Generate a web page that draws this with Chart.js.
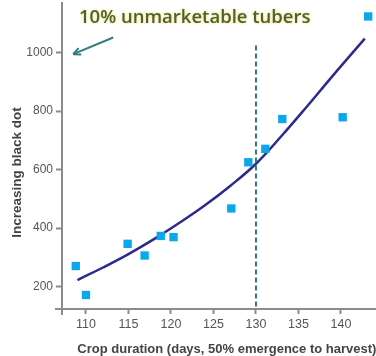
<!DOCTYPE html>
<html>
<head>
<meta charset="utf-8">
<script src="https://cdn.jsdelivr.net/npm/chart.js@4/dist/chart.umd.min.js"></script>
<style>
  html, body { margin: 0; padding: 0; background: #ffffff; }
  #wrap { width: 376px; height: 356px; position: relative; }
</style>
</head>
<body>
<div id="wrap"><canvas id="c" width="376" height="356"></canvas></div>
<script>
// ---- Data ----
const obsDays   = [108.8, 110.0, 114.9, 116.9, 118.8, 120.3, 127.1, 129.1, 131.1, 133.1, 140.2, 143.2];
const obsDot    = [270,   171,   346,   306,   373,   369,   467,   625,   671,   773,   779,   1124];

const fitDays   = [109.0, 112.0, 115.0, 118.0, 121.0, 124.0, 127.0, 130.0, 133.0, 136.0, 139.0, 142.8];
const fitDot    = [222,   265,   311,   362,   418,   478,   545,   620,   715,   816,   920,   1048];

const xTicks    = [110, 115, 120, 125, 130, 135, 140];
const yTicks    = [200, 400, 600, 800, 1000];

const cutoffDay = 130;        // dashed vertical line
const cutoffTop = 1025;       // top of the dashed line (y value)
const noteText  = '10% unmarketable tubers';
const arrowFrom = [113.2, 1052];
const arrowTo   = [108.5, 995];
const noteAt    = [122.8, 1100];

const xTitle = 'Crop duration (days, 50% emergence to harvest)';
const yTitle = 'Increasing black dot';

const AXIS_COL = '#8c8c8c';
const TICK_COL = '#555555';
const TEAL = '#2f7f7b';

const zeroPad = s => {
  s.paddingLeft = 0; s.paddingRight = 0; s.paddingTop = 0; s.paddingBottom = 0;
  if (s._margins) { s._margins.left = 0; s._margins.right = 0; s._margins.top = 0; s._margins.bottom = 0; }
};

const overlay = {
  id: 'overlay',
  afterDatasetsDraw(chart) {
    const { ctx, scales: { x, y }, chartArea } = chart;
    ctx.save();
    // axis extensions (cross at origin)
    ctx.strokeStyle = AXIS_COL;
    ctx.lineWidth = 2;
    ctx.beginPath();
    ctx.moveTo(chartArea.left - 7, chartArea.bottom);
    ctx.lineTo(chartArea.left, chartArea.bottom);
    ctx.moveTo(chartArea.left, chartArea.bottom);
    ctx.lineTo(chartArea.left, chartArea.bottom + 6);
    ctx.stroke();

    // dashed cutoff line
    ctx.strokeStyle = TEAL;
    ctx.lineWidth = 2;
    ctx.setLineDash([5, 3]);
    ctx.beginPath();
    const cx = x.getPixelForValue(cutoffDay);
    ctx.moveTo(cx, y.getPixelForValue(cutoffTop));
    ctx.lineTo(cx, chartArea.bottom);
    ctx.stroke();
    ctx.setLineDash([]);

    // arrow
    const ax0 = x.getPixelForValue(arrowFrom[0]), ay0 = y.getPixelForValue(arrowFrom[1]);
    const ax1 = x.getPixelForValue(arrowTo[0]),   ay1 = y.getPixelForValue(arrowTo[1]);
    ctx.strokeStyle = TEAL;
    ctx.lineWidth = 2;
    ctx.beginPath();
    ctx.moveTo(ax0, ay0);
    ctx.lineTo(ax1, ay1);
    ctx.stroke();
    const ang = Math.atan2(ay1 - ay0, ax1 - ax0);
    ctx.beginPath();
    ctx.moveTo(ax1, ay1);
    ctx.lineTo(ax1 - 8 * Math.cos(ang - 0.45), ay1 - 8 * Math.sin(ang - 0.45));
    ctx.moveTo(ax1, ay1);
    ctx.lineTo(ax1 - 8 * Math.cos(ang + 0.45), ay1 - 8 * Math.sin(ang + 0.45));
    ctx.stroke();

    // annotation text with glow
    ctx.font = '600 18.5px "Open Sans", "Liberation Sans", sans-serif';
    ctx.textAlign = 'center';
    ctx.textBaseline = 'alphabetic';
    const tx = x.getPixelForValue(noteAt[0]), ty = y.getPixelForValue(noteAt[1]);
    ctx.shadowColor = 'rgba(235, 210, 90, 0.9)';
    ctx.shadowBlur = 3;
    ctx.fillStyle = '#4f6228';
    ctx.fillText(noteText, tx, ty);
    ctx.shadowBlur = 0;
    ctx.shadowColor = 'transparent';

    // axis titles
    ctx.fillStyle = '#444444';
    ctx.font = 'bold 13px "Liberation Sans", Arial, sans-serif';
    ctx.textAlign = 'center';
    ctx.textBaseline = 'middle';
    ctx.fillText(xTitle, chartArea.left + (chartArea.right - chartArea.left) * 0.525, 349);

    ctx.save();
    ctx.translate(17, y.getPixelForValue(590));
    ctx.rotate(-Math.PI / 2);
    ctx.font = 'bold 13.5px "Liberation Sans", Arial, sans-serif';
    ctx.fillText(yTitle, 0, 0);
    ctx.restore();

    ctx.restore();
  }
};

new Chart(document.getElementById('c'), {
  type: 'scatter',
  data: {
    datasets: [
      {
        label: 'fit',
        type: 'line',
        data: fitDays.map((d, i) => ({ x: d, y: fitDot[i] })),
        borderColor: '#2c2a8c',
        borderWidth: 2.5,
        pointRadius: 0,
        tension: 0.4,
        fill: false,
        order: 2
      },
      {
        label: 'observed',
        data: obsDays.map((d, i) => ({ x: d, y: obsDot[i] })),
        pointStyle: 'rect',
        pointRadius: 5.9,
        backgroundColor: '#08a8ea',
        borderColor: '#08a8ea',
        borderWidth: 0,
        order: 1
      }
    ]
  },
  options: {
    responsive: false,
    animation: false,
    devicePixelRatio: 1,
    layout: { autoPadding: false, padding: { top: 3, right: 0, left: 0, bottom: 0 } },
    plugins: { legend: { display: false }, tooltip: { enabled: false } },
    scales: {
      x: {
        type: 'linear',
        min: 107.18,
        max: 144.12,
        afterBuildTicks: s => { s.ticks = xTicks.map(v => ({ value: v })); },
        afterFit: s => { s.height = 47; zeroPad(s); },
        grid: { drawOnChartArea: false, drawTicks: true, tickLength: 5, tickWidth: 2, color: AXIS_COL },
        border: { display: true, color: AXIS_COL, width: 2 },
        ticks: {
          color: TICK_COL,
          font: { family: '"Liberation Sans", Arial, sans-serif', size: 12.5 },
          padding: 3,
          maxRotation: 0,
          callback: v => String(v)
        },
        title: { display: false }
      },
      y: {
        type: 'linear',
        min: 123,
        max: 1170,
        afterBuildTicks: s => { s.ticks = yTicks.map(v => ({ value: v })); },
        afterFit: s => { s.width = 62; zeroPad(s); },
        grid: { drawOnChartArea: false, drawTicks: true, tickLength: 6, tickWidth: 2, color: AXIS_COL },
        border: { display: true, color: AXIS_COL, width: 2 },
        ticks: {
          color: TICK_COL,
          font: { family: '"Liberation Sans", Arial, sans-serif', size: 12 },
          padding: 3,
          callback: v => String(v)
        }
      }
    }
  },
  plugins: [overlay]
});
</script>
</body>
</html>
